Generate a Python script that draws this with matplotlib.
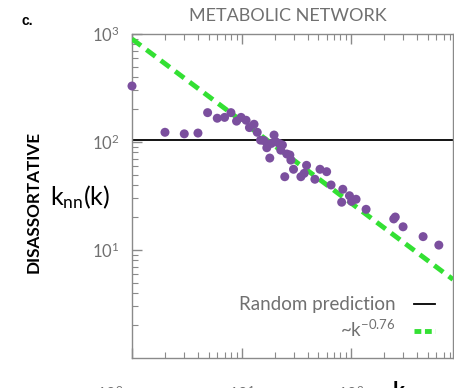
import matplotlib
matplotlib.use('Agg')
import numpy as np
import matplotlib.pyplot as plt
from matplotlib.ticker import LogLocator, NullFormatter
from matplotlib.transforms import ScaledTranslation

# ============================================================
# data
# ============================================================
k = [1.0, 2.0, 3.0, 4.0, 4.9, 6.0, 7.0, 8.0, 9.0, 9.9,
     11.0, 11.8, 13.0, 13.9, 14.9, 16.0, 17.0, 18.1, 18.7, 19.8,
     20.5, 22.0, 22.8, 23.6, 24.8, 25.9, 27.6, 28.2, 29.8, 34.8,
     37.3, 39.2, 46.7, 52.0, 59.8, 65.6, 84.0, 82.0, 96.6, 101.0,
     111.0, 137.0, 245.0, 253.0, 298.0, 454.0, 632.0]
knn = [330, 123, 119, 121, 187, 166, 169, 187, 156, 169,
       159, 136, 146, 123, 104, 103, 88.5, 71, 97, 116,
       100.6, 97, 84, 93.8, 47.7, 77.4, 75.8, 68, 55.9, 47.7,
       51.3, 60.8, 45.2, 55.9, 53.1, 40, 36.5, 27.7, 31.8, 28.2,
       29.5, 23.8, 19.4, 20.2, 16.4, 13.3, 11.1]

random_pred = 104
fit_amp = 900
fit_exp = -0.76

title = "METABOLIC NETWORK"
gray = "#707070"
purple = "#7b4f9e"
green = "#33e033"

plt.rcParams['font.family'] = ['Lato', 'DejaVu Sans']
plt.rcParams['mathtext.fontset'] = 'custom'
plt.rcParams['mathtext.rm'] = 'Lato'
plt.rcParams['mathtext.it'] = 'Lato'

fig = plt.figure(figsize=(4.54, 3.88), dpi=100)
ax = fig.add_axes([132/454, (388-358)/388, (453-132)/454, (358-34)/388])

ax.set_xscale('log')
ax.set_yscale('log')
xmax = 10**2.93
ax.set_xlim(1, xmax)
ax.set_ylim(1, 1000)

# random prediction + power law fit
ax.axhline(random_pred, color='black', lw=1.3, zorder=2, label='Random prediction')
kk = np.array([1, xmax])
ax.plot(kk, fit_amp * kk**fit_exp, color=green, lw=3.5, dashes=(2.3, 1.4),
        zorder=3, label='~k$^{-0.76}$')
ax.scatter(k, knn, s=42, color=purple, edgecolors='none', zorder=4, clip_on=False)

# axes styling
for s in ax.spines.values():
    s.set_color('#8a8a8a')
    s.set_linewidth(1.0)
ax.tick_params(which='both', direction='in', colors='#8a8a8a', top=True, right=False,
               labelcolor=gray, labelsize=12)
ax.tick_params(which='major', length=7, width=1)
ax.tick_params(which='minor', length=4, width=0.8)
ax.tick_params(axis='x', which='major', pad=19)
ax.tick_params(axis='y', which='major', pad=9)
ax.yaxis.set_minor_locator(LogLocator(base=10, subs=np.arange(2, 10), numticks=10))
ax.yaxis.set_minor_formatter(NullFormatter())
ax.set_yticks([10, 100, 1000])
ax.set_yticklabels(['$\\mathdefault{10^{1}}$', '$\\mathdefault{10^{2}}$', '$\\mathdefault{10^{3}}$'])
ax.set_xticks([1, 10, 100])
ax.set_xticklabels(['$\\mathdefault{10^{0}}$', '$\\mathdefault{10^{1}}$', '$\\mathdefault{10^{2}}$'])
lab0 = ax.get_xticklabels()[0]
lab0.set_transform(lab0.get_transform() + ScaledTranslation(-0.22, 0, fig.dpi_scale_trans))

leg = ax.legend(loc='lower right', bbox_to_anchor=(0.945, 0.055), frameon=False,
                markerfirst=False, fontsize=13.5, handlelength=1.15, handletextpad=0.95,
                labelspacing=0.3, borderpad=0, borderaxespad=0)
for t in leg.get_texts():
    t.set_color(gray)
leg.get_lines()[1].set_dashes((1.4, 0.75))

fig.text(288/454, 1 - 16/388, title, ha='center', va='center', color=gray,
         fontsize=13)
fig.text(21/454, 1 - 21/388, 'c.', ha='left', va='center', color='black',
         fontsize=10, fontweight='bold', family=['Liberation Sans', 'DejaVu Sans'])
fig.text(34/454, 1 - 202/388, 'DISASSORTATIVE', rotation=90, ha='center', va='center',
         color='black', fontsize=12.3, fontweight='bold',
         family=['Lato', 'DejaVu Sans'])
fig.text(80/454, 1 - 197/388, '$\\mathregular{k_{nn}(k)}$', ha='center', va='center',
         color='black', fontsize=18)
fig.text(393/454, 1 - 392/388, 'k', ha='left', va='center', color='black',
         fontsize=16, fontweight='bold')

fig.savefig('out.png', dpi=100)
